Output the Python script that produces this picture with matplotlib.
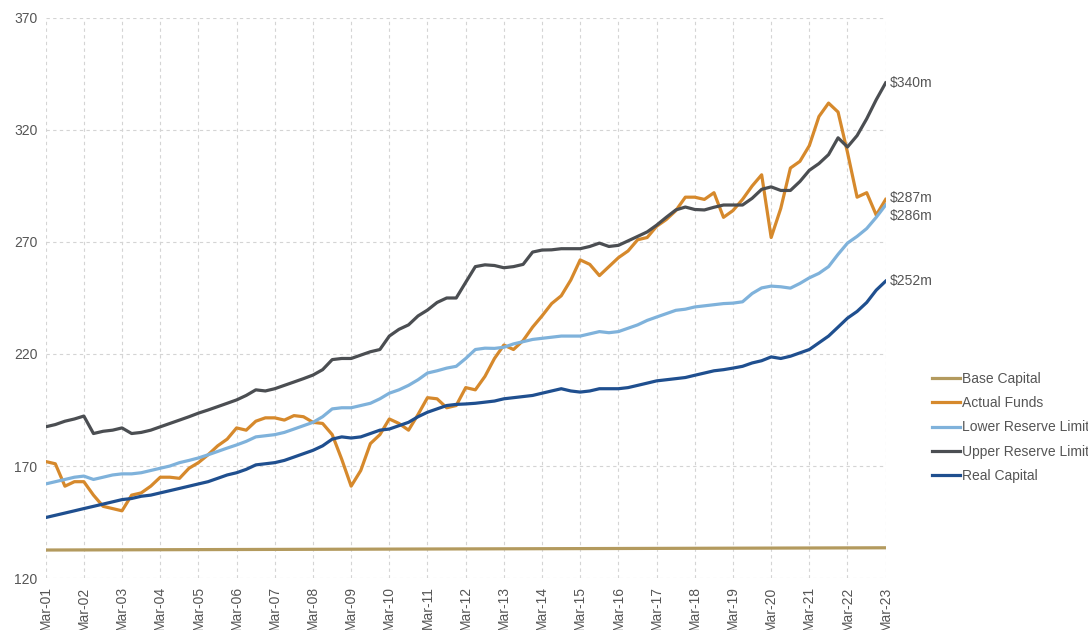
import pandas as pd
import matplotlib.pyplot as plt
import matplotlib.dates as mdates

# quarterly readings, Mar-01 .. Mar-23
quarters = pd.date_range('2001-03-01', '2023-03-01', freq='QS-MAR')

actual_funds = [
    172, 171, 161, 163, 163, 157, 152, 151, 150, 157, 158, 161,
    165, 165, 164.5, 169, 171.5, 175, 179, 182, 187, 186, 190, 191.5,
    191.5, 190.5, 192.5, 192, 189.5, 189, 184, 173, 161, 168, 180, 184,
    191, 189, 186, 193, 200.5, 200, 196, 197, 205, 204, 210, 218,
    224, 222, 226, 232, 237, 242.5, 246, 253, 262, 260, 255, 259,
    263, 266, 271, 272, 277, 280, 284, 290, 290, 289, 292, 281,
    284, 289, 295, 300, 272, 285, 303, 306, 313, 326, 332, 328,
    310, 290, 292, 282, 289,
]
lower_reserve = [
    162, 163, 164, 165, 165.5, 164, 165, 166, 166.5, 166.5, 167, 168,
    169, 170, 171.5, 172.5, 173.6, 175, 176.5, 178, 179.4, 181, 183, 183.5,
    184, 185, 186.5, 188, 189.5, 192, 195.5, 196, 196, 197, 198, 200,
    202.5, 204, 206, 208.5, 211.5, 212.5, 213.7, 214.5, 218, 222, 222.6, 222.5,
    223, 224.5, 225.5, 226.5, 227, 227.5, 228, 228, 228, 229, 230, 229.5,
    230, 231.5, 233, 235, 236.5, 238, 239.5, 240, 241, 241.5, 242, 242.5,
    242.7, 243.3, 247, 249.5, 250.3, 250, 249.4, 251.5, 254, 256, 259, 264.5,
    269.5, 272.5, 276, 281, 286.5,
]
upper_reserve = [
    187.5, 188.5, 190, 191, 192.3, 184.5, 185.5, 186, 187, 184.5, 185, 186,
    187.5, 189, 190.5, 192, 193.6, 195, 196.5, 198, 199.5, 201.5, 204, 203.5,
    204.5, 206, 207.5, 209, 210.6, 213, 217.5, 218, 218, 219.5, 221, 222,
    228, 231, 233, 237, 239.6, 243, 245, 245, 252, 259, 259.8, 259.5,
    258.5, 259, 260, 265.5, 266.4, 266.5, 267, 267, 267, 268, 269.5, 268,
    268.5, 270.5, 272.5, 274.5, 277.5, 281, 284.3, 285.6, 284.5, 284.3, 285.5, 286.5,
    286.5, 286.5, 289.5, 293.5, 294.6, 293, 293, 297, 302, 305, 309, 316.5,
    312.4, 317.5, 325, 333.5, 341,
]
real_capital = [
    147, 148, 149, 150, 151, 152, 153, 154, 155, 155.5, 156.5, 157,
    158, 159, 160, 161, 162, 163, 164.5, 166, 167, 168.5, 170.5, 171,
    171.5, 172.5, 174, 175.5, 177, 179, 182, 183, 182.5, 183, 184.5, 186,
    186.5, 188, 189.5, 192, 194, 195.5, 197, 197.5, 197.7, 198, 198.5, 199,
    200, 200.5, 201, 201.5, 202.5, 203.5, 204.5, 203.5, 203, 203.5, 204.5, 204.5,
    204.5, 205, 206, 207, 208, 208.5, 209, 209.5, 210.5, 211.5, 212.5, 213,
    213.7, 214.5, 216, 217, 218.7, 218, 219, 220.5, 222, 225, 228, 232,
    236, 239, 243, 248.5, 252.5,
]
base_dates = pd.to_datetime(['2001-03-01', '2023-03-01'])
base_capital = [132.5, 133.5]

end_labels = ['$340m', '$287m', '$286m', '$252m']

plt.rcParams['font.family'] = ['Liberation Sans', 'DejaVu Sans']

fig = plt.figure(figsize=(10.88, 6.30), dpi=100)
ax = fig.add_axes([0.042, 0.0825, 0.772, 0.889])

lw = 2.3
ax.plot(base_dates, base_capital, color='#b39a5e', lw=lw, label='Base Capital')
ax.plot(quarters, actual_funds, color='#d6892c', lw=lw, label='Actual Funds')
ax.plot(quarters, lower_reserve, color='#7fb2db', lw=lw, label='Lower Reserve Limit')
ax.plot(quarters, upper_reserve, color='#4b4e52', lw=lw, label='Upper Reserve Limit')
ax.plot(quarters, real_capital, color='#1f4f8f', lw=lw, label='Real Capital')

# end-of-line value labels
ends = [upper_reserve[-1], actual_funds[-1], lower_reserve[-1], real_capital[-1]]
offsets = [0, 1, -8, 0]
for txt, v, dy in zip(end_labels, ends, offsets):
    ax.annotate(txt.replace('$', r'\$'), (quarters[-1], v), xytext=(3, dy),
                textcoords='offset points', va='center', ha='left',
                fontsize=10, color='#555555', annotation_clip=False)

ax.set_xlim(quarters[0], quarters[-1])
ax.set_ylim(120, 370)
ax.set_yticks(range(120, 371, 50))
ax.xaxis.set_major_locator(mdates.MonthLocator(bymonth=3))
ax.xaxis.set_major_formatter(mdates.DateFormatter('%b-%y'))
plt.setp(ax.get_xticklabels(), rotation=90)
ax.tick_params(length=0, labelsize=10, colors='#555555', pad=6)
ax.grid(True, color='#d4d4d4', linestyle=(0, (3, 3)), lw=0.8)
for s in ax.spines.values():
    s.set_visible(False)

fig.legend(loc='upper left', bbox_to_anchor=(0.845, 0.43), frameon=False,
           fontsize=10, handlelength=2.0, handletextpad=0.2, labelspacing=0.75,
           labelcolor='#555555')

plt.savefig('out.png')
